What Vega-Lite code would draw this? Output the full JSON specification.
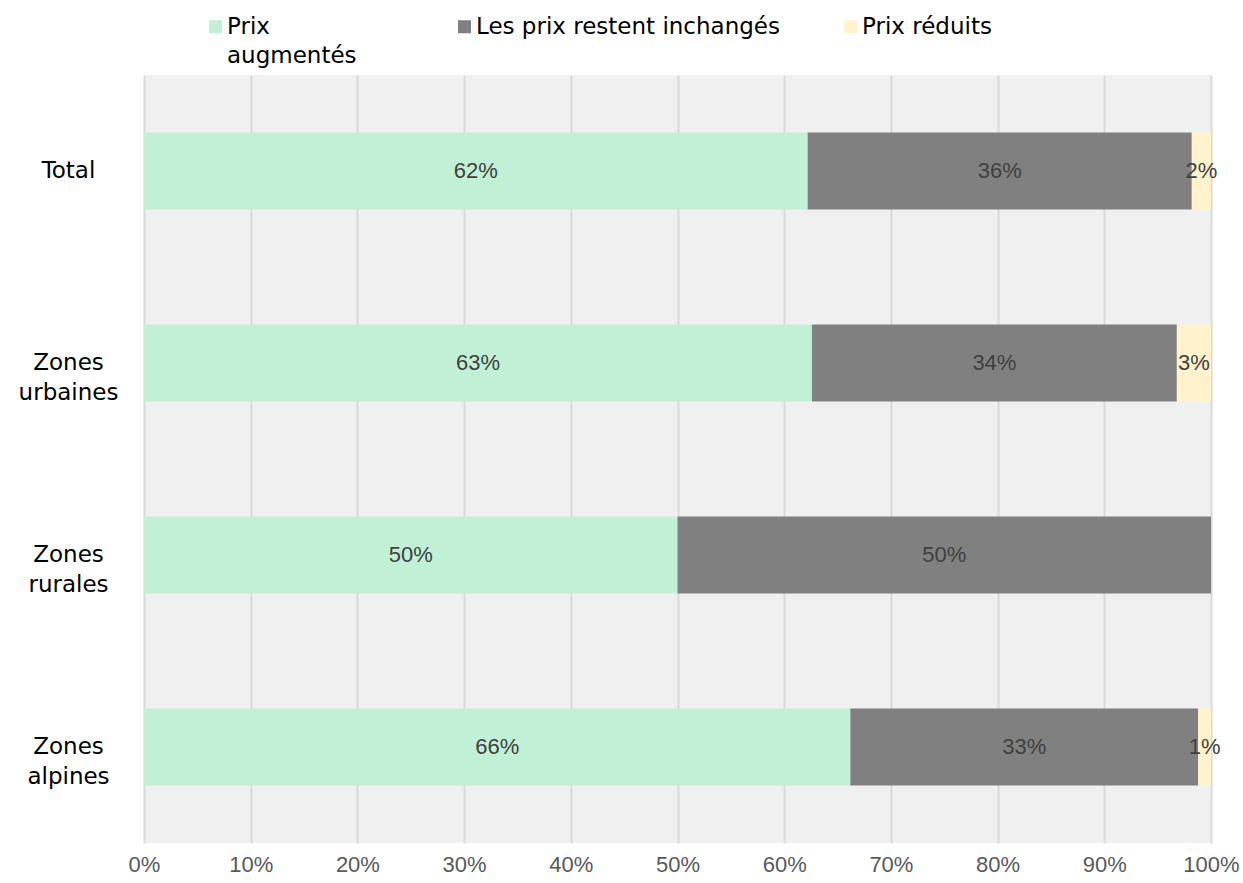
{
  "$schema": "https://vega.github.io/schema/vega-lite/v6.json",
  "width": 1067,
  "height": 768,
  "autosize": {"type": "none"},
  "padding": {"left": 144, "top": 75, "right": 32, "bottom": 40},
  "background": "white",
  "config": {
    "view": {"fill": "#f0f0f0", "stroke": null},
    "legend": {"padding": 0}
  },
  "data": {
    "values": [
      {"zone": "Total", "cat": "Prix augmentés", "ord": 1, "value": 0.622},
      {"zone": "Total", "cat": "Les prix restent inchangés", "ord": 2, "value": 0.360},
      {"zone": "Total", "cat": "Prix réduits", "ord": 3, "value": 0.018},
      {"zone": "Zones urbaines", "cat": "Prix augmentés", "ord": 1, "value": 0.626},
      {"zone": "Zones urbaines", "cat": "Les prix restent inchangés", "ord": 2, "value": 0.342},
      {"zone": "Zones urbaines", "cat": "Prix réduits", "ord": 3, "value": 0.032},
      {"zone": "Zones rurales", "cat": "Prix augmentés", "ord": 1, "value": 0.5},
      {"zone": "Zones rurales", "cat": "Les prix restent inchangés", "ord": 2, "value": 0.5},
      {"zone": "Zones alpines", "cat": "Prix augmentés", "ord": 1, "value": 0.662},
      {"zone": "Zones alpines", "cat": "Les prix restent inchangés", "ord": 2, "value": 0.326},
      {"zone": "Zones alpines", "cat": "Prix réduits", "ord": 3, "value": 0.012}
    ]
  },
  "encoding": {
    "y": {
      "field": "zone",
      "type": "nominal",
      "sort": ["Total", "Zones urbaines", "Zones rurales", "Zones alpines"],
      "scale": {"paddingInner": 0.6, "paddingOuter": 0.3},
      "axis": {
        "title": null,
        "domain": false,
        "ticks": false,
        "tickSize": 0,
        "labelAlign": "center",
        "labelBaseline": "middle",
        "labelPadding": 76,
        "labelFont": "DejaVu Sans",
        "labelFontSize": 23,
        "labelColor": "#000000",
        "labelLineHeight": 30,
        "labelExpr": "split(datum.label, ' ')"
      }
    }
  },
  "layer": [
    {
      "mark": {"type": "bar"},
      "encoding": {
        "x": {
          "field": "value",
          "type": "quantitative",
          "stack": "zero",
          "scale": {"domain": [0, 1], "nice": false},
          "axis": {
            "title": null,
            "domain": false,
            "ticks": false,
            "tickSize": 0,
            "grid": true,
            "gridColor": "#d9d9d9",
            "gridWidth": 2,
            "values": [0, 0.1, 0.2, 0.3, 0.4, 0.5, 0.6, 0.7, 0.8, 0.9, 1],
            "format": ".0%",
            "labelFont": "Liberation Sans",
            "labelFontSize": 22,
            "labelColor": "#595959",
            "labelPadding": 11,
            "labelFlush": false
          }
        },
        "color": {
          "field": "cat",
          "type": "nominal",
          "sort": ["Prix augmentés", "Les prix restent inchangés", "Prix réduits"],
          "scale": {
            "domain": ["Prix augmentés", "Les prix restent inchangés", "Prix réduits"],
            "range": ["#c1f0d6", "#808080", "#fff2cc"]
          },
          "legend": {
            "title": null,
            "orient": "none",
            "legendX": 60,
            "legendY": -60,
            "direction": "horizontal",
            "symbolType": "square",
            "symbolSize": 169,
            "symbolStrokeWidth": 0,
            "symbolOpacity": 1,
            "labelFont": "DejaVu Sans",
            "labelFontSize": 23,
            "labelColor": "#000000",
            "labelOffset": 0,
            "labelLimit": 500,
            "labelBaseline": "middle",
            "columnPadding": 59,
            "labelExpr": "datum.label == 'Prix augmentés' ? ['Prix', 'augmentés     \u200b'] : [datum.label, '']",
            "encoding": {"labels": {"lineHeight": {"value": 29}}}
          }
        },
        "order": {"field": "ord", "type": "quantitative"}
      }
    },
    {
      "mark": {"type": "text", "font": "Liberation Sans", "fontSize": 22, "color": "#404040", "baseline": "middle", "align": "center"},
      "encoding": {
        "x": {"field": "value", "type": "quantitative", "stack": "zero", "bandPosition": 0.5},
        "detail": {"field": "cat"},
        "order": {"field": "ord", "type": "quantitative"},
        "text": {"field": "value", "type": "quantitative", "format": ".0%"}
      }
    }
  ]
}
